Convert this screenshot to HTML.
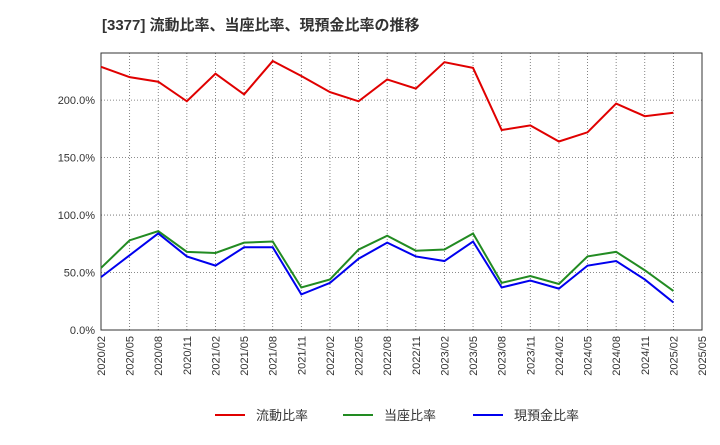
<!DOCTYPE html>
<html><head><meta charset="utf-8"><style>
body{margin:0;background:#fff;font-family:"Liberation Sans","Noto Sans CJK JP",sans-serif}
svg text{font-family:"Liberation Sans","Noto Sans CJK JP",sans-serif}
</style></head><body>
<svg id="chart" width="720" height="440" xmlns="http://www.w3.org/2000/svg">
<text x="102" y="30" font-size="15" font-weight="bold" fill="#333">[3377]  流動比率、当座比率、現預金比率の推移</text>
<g id="grid"></g><g id="axes"></g><g id="series"></g><g id="legend"></g>
</svg>
<script>
const xLabels=["2020/02","2020/05","2020/08","2020/11","2021/02","2021/05","2021/08","2021/11","2022/02","2022/05","2022/08","2022/11","2023/02","2023/05","2023/08","2023/11","2024/02","2024/05","2024/08","2024/11","2025/02","2025/05"];
const yTicks=[0,50,100,150,200];
const current=[229,220,216,199,223,205,234,221,207,199,218,210,233,228,174,178,164,172,197,186,189];
const quick=[54,78,86,68,67,76,77,37,44,70,82,69,70,84,41,47,40,64,68,52,34];
const cash=[46,65,84,64,56,72,72,31,41,62,76,64,60,77,37,43,36,56,60,44,24];
const seriesNames=["流動比率","当座比率","現預金比率"];
const colors=["#e00000","#228b22","#0000ee"];
const L=101,R=702,T=53,B=330,yMax=241;
const X=i=>L+i*(R-L)/(xLabels.length-1);
const Y=v=>B-v*(B-T)/yMax;
const ns="http://www.w3.org/2000/svg";
function mk(tag,attrs,parent,txt){const e=document.createElementNS(ns,tag);for(const k in attrs)e.setAttribute(k,attrs[k]);if(txt!==undefined)e.textContent=txt;parent.appendChild(e);return e;}
const grid=document.getElementById('grid'),axes=document.getElementById('axes'),ser=document.getElementById('series'),leg=document.getElementById('legend');
xLabels.forEach((lab,i)=>{
 const l=mk('line',{x1:X(i),x2:X(i),y1:T,y2:B,stroke:'#666','stroke-width':0.8,'stroke-dasharray':'1,2'},grid);
 
 
 const t=mk('text',{x:0,y:0,'font-size':11,fill:'#333','text-anchor':'end',transform:`translate(${X(i)+4},${B+6}) rotate(-90)`},axes,lab);
 
 
});
yTicks.forEach(v=>{
 const l=mk('line',{x1:L,x2:R,y1:Y(v),y2:Y(v),stroke:'#666','stroke-width':0.8,'stroke-dasharray':'1,2'},grid);
 
 
 const t=mk('text',{x:L-6,y:Y(v)+4,'font-size':11,fill:'#333','text-anchor':'end'},axes,v.toFixed(1)+'%');
 
 
});
const frame=mk('rect',{x:L,y:T,width:R-L,height:B-T,fill:'none',stroke:'#333','stroke-width':1},axes);


[current,quick,cash].forEach((arr,s)=>{
 const p=mk('polyline',{points:arr.map((v,i)=>X(i)+','+Y(v)).join(' '),fill:'none',stroke:colors[s],'stroke-width':2},ser);
 
 
});
const lx=[215,343,473];
seriesNames.forEach((n,s)=>{
 const g=mk('g',{},leg);
 
 
 mk('line',{x1:lx[s],x2:lx[s]+30,y1:415,y2:415,stroke:colors[s],'stroke-width':2},g);
 mk('text',{x:lx[s]+41,y:420,'font-size':13,fill:'#333'},g,n);
});
</script>
</body></html>
